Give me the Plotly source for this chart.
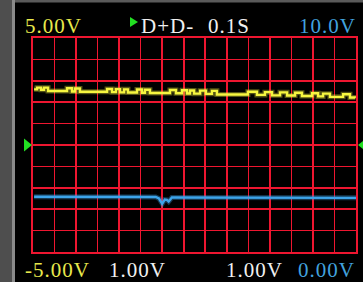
import plotly.graph_objects as go

W, H = 363, 282

# Channel 1 (yellow), volts, 1.00V/div, range -5..5
yellow_t = [0.005, 0.019, 0.037, 0.051, 0.070, 0.158, 0.181, 0.195, 0.218, 0.344,
            0.367, 0.385, 0.404, 0.423, 0.441, 0.483, 0.506, 0.520, 0.543, 0.636,
            0.664, 0.692, 0.715, 0.729, 0.748, 0.776, 0.803, 0.831, 0.854, 0.998,
            1.040, 1.077, 1.110, 1.147, 1.180, 1.217, 1.249, 1.296, 1.324, 1.347,
            1.379, 1.440, 1.472, 1.497]
yellow_v = [2.60, 2.68, 2.58, 2.68, 2.52, 2.65, 2.50, 2.64, 2.49, 2.62,
            2.47, 2.61, 2.46, 2.60, 2.45, 2.59, 2.44, 2.58, 2.43, 2.57,
            2.42, 2.56, 2.41, 2.55, 2.40, 2.54, 2.39, 2.53, 2.36, 2.49,
            2.34, 2.47, 2.32, 2.46, 2.31, 2.44, 2.29, 2.42, 2.27, 2.40,
            2.25, 2.37, 2.22, 2.21]

# Channel 2 (blue), volts, 1.00V/div, range 0..10
blue_t = [0.005, 0.570, 0.585, 0.600, 0.612, 0.622, 0.630, 0.645, 0.660, 1.500]
blue_v = [2.58, 2.57, 2.50, 2.26, 2.45, 2.44, 2.36, 2.55, 2.55, 2.53]

top_labels = ["5.00V", "D+D-", "0.1S", "10.0V"]
bottom_labels = ["-5.00V", "1.00V", "1.00V", "0.00V"]

YEL = "#e8e84c"
BLU = "#42a2de"
WHT = "#f0f0f0"
RED = "#ee1630"
GRN = "#22e022"

fig = go.Figure()
# soft glow under the traces
fig.add_trace(go.Scatter(x=yellow_t, y=yellow_v, mode="lines", line_shape="hv",
                         line=dict(color="rgba(240,240,60,0.35)", width=5), yaxis="y",
                         hoverinfo="skip", showlegend=False))
fig.add_trace(go.Scatter(x=yellow_t, y=yellow_v, mode="lines", line_shape="hv",
                         line=dict(color="#f6f640", width=2.4), yaxis="y",
                         hoverinfo="skip", showlegend=False))
fig.add_trace(go.Scatter(x=blue_t, y=blue_v, mode="lines",
                         line=dict(color="rgba(60,160,230,0.35)", width=5), yaxis="y2",
                         hoverinfo="skip", showlegend=False))
fig.add_trace(go.Scatter(x=blue_t, y=blue_v, mode="lines",
                         line=dict(color="#3ca4ea", width=2.4), yaxis="y2",
                         hoverinfo="skip", showlegend=False))

def px(x):
    return x / W

def py(y):
    return 1 - y / H

L, R, T, B = 33, 356, 38, 252

fig.update_layout(
    width=W, height=H, margin=dict(l=0, r=0, t=0, b=0),
    paper_bgcolor="black", plot_bgcolor="black",
    xaxis=dict(domain=[px(L), px(R)], range=[0, 1.5], dtick=0.1, tick0=0,
               showgrid=True, gridcolor=RED, gridwidth=1.6, zeroline=False,
               showticklabels=False, ticks="", showline=True, linecolor=RED,
               linewidth=1.6, mirror=True, fixedrange=True),
    yaxis=dict(domain=[py(B), py(T)], range=[-5, 5], dtick=1, tick0=0,
               showgrid=True, gridcolor=RED, gridwidth=1.6, zeroline=False,
               showticklabels=False, ticks="", showline=True, linecolor=RED,
               linewidth=1.6, mirror=True, fixedrange=True),
    yaxis2=dict(overlaying="y", range=[0, 10], showgrid=False, zeroline=False,
                showticklabels=False, ticks="", showline=False, fixedrange=True),
)

shapes = [
    dict(type="rect", xref="paper", yref="paper", x0=0, x1=px(12), y0=0, y1=1,
         fillcolor="#4e4e4e", line=dict(width=0), layer="above"),
    dict(type="rect", xref="paper", yref="paper", x0=px(12), x1=px(15), y0=0, y1=1,
         fillcolor="#8a8a8a", line=dict(width=0), layer="above"),
    dict(type="rect", xref="paper", yref="paper", x0=px(15), x1=1, y0=py(2.5), y1=1,
         fillcolor="#5a5a5a", line=dict(width=0), layer="above"),
]

def tri(x_base, x_tip, yc, half):
    return dict(type="path", xref="paper", yref="paper",
                path=f"M {px(x_base)} {py(yc-half)} L {px(x_tip)} {py(yc)} L {px(x_base)} {py(yc+half)} Z",
                fillcolor=GRN, line=dict(width=0), layer="above")

shapes.append(tri(24, 32, 145, 6.5))
shapes.append(tri(366, 358, 145, 6.5))
shapes.append(tri(130, 138, 22, 5))
fig.update_layout(shapes=shapes)

FONT = "Liberation Serif, Times New Roman, serif"
FS = 21
ann = []
def label(text, x, y, color, anchor):
    ann.append(dict(text=f"<span style='letter-spacing:1px'>{text}</span>",
                    xref="paper", yref="paper", x=px(x), y=py(y),
                    xanchor=anchor, yanchor="middle", showarrow=False,
                    font=dict(family=FONT, size=FS, color=color)))

label(top_labels[0], 23, 26, YEL, "left")
label(top_labels[1], 139, 26, WHT, "left")
label(top_labels[2], 206, 26, WHT, "left")
label(top_labels[3], 358, 26, BLU, "right")
label(bottom_labels[0], 23, 270, YEL, "left")
label(bottom_labels[1], 107, 270, WHT, "left")
label(bottom_labels[2], 285, 270, WHT, "right")
label(bottom_labels[3], 357, 270, BLU, "right")
fig.update_layout(annotations=ann)

fig.write_html("out.html", config=dict(displayModeBar=False, staticPlot=True),
               post_script="document.body.style.margin='0';document.body.style.overflow='hidden';")
